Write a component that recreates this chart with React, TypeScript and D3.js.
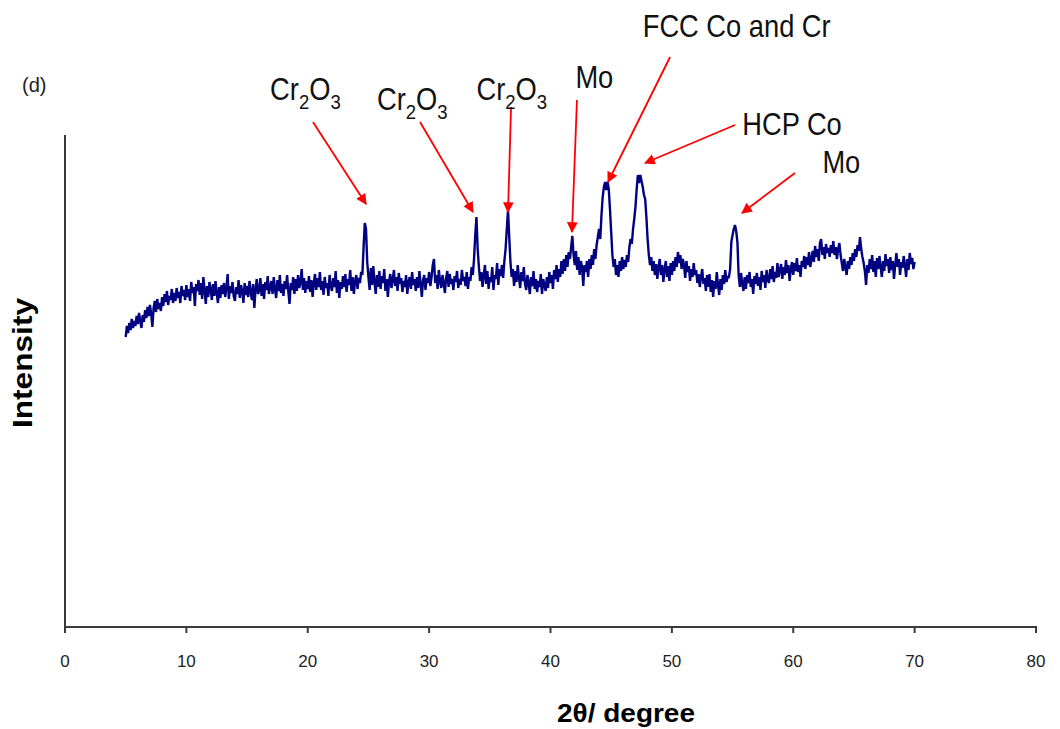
import React, { useEffect } from "react";
import * as d3 from "d3";

// ---- DATA ----
const startAngle = 5; // 2θ of the first sample (degree)
const angleStep = 0.1; // sampling step (degree)
// intensity (arbitrary units) at 5.0, 5.1, ... 70.0 degrees
const intensity: number[] = [
  290, 301, 294, 304, 297, 308, 299, 306, 301, 311, // 5
  303, 314, 306, 299, 312, 305, 317, 309, 320, 311, // 6
  322, 313, 300, 319, 326, 315, 328, 318, 324, 316, // 7
  330, 321, 333, 325, 336, 322, 331, 327, 338, 324, // 8
  334, 326, 339, 329, 335, 324, 341, 331, 337, 327, // 9
  342, 330, 338, 326, 345, 334, 340, 321, 343, 336, // 10
  347, 332, 344, 328, 350, 337, 323, 341, 330, 345, // 11
  338, 327, 343, 331, 346, 334, 324, 340, 329, 342, // 12
  333, 344, 330, 339, 353, 328, 341, 334, 345, 331, // 13
  326, 340, 333, 347, 329, 342, 336, 324, 344, 332, // 14
  341, 330, 346, 335, 327, 343, 319, 338, 348, 333, // 15
  336, 349, 331, 343, 328, 345, 337, 351, 333, 340, // 16
  346, 333, 350, 338, 329, 347, 336, 352, 334, 343, // 17
  331, 346, 338, 352, 335, 323, 344, 337, 350, 333, // 18
  348, 336, 352, 339, 345, 358, 337, 349, 334, 346, // 19
  338, 351, 335, 347, 330, 344, 353, 337, 349, 340, // 20
  355, 337, 346, 332, 350, 339, 344, 331, 352, 341, // 21
  336, 349, 340, 356, 334, 347, 329, 345, 338, 351, // 22
  340, 353, 335, 348, 342, 357, 336, 350, 333, 346, // 23
  352, 338, 349, 344, 355, 352, 380, 404, 398, 365, // 24
  350, 337, 359, 342, 361, 345, 333, 352, 340, 356, // 25
  338, 351, 344, 358, 336, 348, 330, 346, 353, 339, // 26
  347, 357, 341, 350, 336, 354, 343, 349, 335, 346, // 27
  340, 352, 333, 345, 350, 338, 355, 342, 348, 336, // 28
  350, 339, 356, 343, 330, 347, 352, 337, 349, 344, // 29
  355, 341, 350, 362, 368, 344, 352, 338, 357, 346, // 30
  339, 352, 344, 334, 349, 356, 340, 353, 343, 348, // 31
  337, 351, 345, 356, 339, 348, 342, 357, 346, 350, // 32
  341, 355, 338, 350, 346, 360, 352, 368, 392, 410, // 33
  378, 360, 346, 355, 340, 352, 362, 343, 356, 338, // 34
  350, 345, 360, 337, 352, 348, 364, 342, 358, 351, // 35
  362, 349, 366, 378, 398, 417, 390, 365, 350, 358, // 36
  341, 356, 345, 362, 350, 339, 355, 346, 360, 343, // 37
  337, 352, 344, 333, 350, 341, 356, 338, 348, 335, // 38
  346, 340, 353, 333, 348, 342, 336, 350, 339, 355, // 39
  344, 352, 338, 357, 348, 362, 345, 358, 350, 366, // 40
  353, 368, 356, 372, 360, 375, 368, 380, 391, 372, // 41
  362, 376, 357, 370, 352, 366, 360, 341, 362, 355, // 42
  366, 350, 368, 358, 372, 362, 378, 368, 382, 390, // 43
  398, 388, 412, 430, 440, 445, 437, 445, 438, 418, // 44
  395, 372, 360, 368, 352, 362, 350, 366, 356, 370, // 45
  358, 367, 360, 372, 365, 380, 388, 383, 398, 408, // 46
  420, 438, 452, 444, 452, 446, 440, 432, 428, 410, // 47
  388, 372, 362, 370, 356, 366, 352, 363, 348, 360, // 48
  368, 352, 362, 345, 358, 366, 350, 361, 346, 364, // 49
  352, 366, 356, 370, 360, 375, 364, 372, 358, 368, // 50
  362, 349, 366, 355, 361, 346, 358, 350, 364, 352, // 51
  357, 344, 353, 340, 350, 358, 343, 349, 336, 352, // 52
  340, 353, 335, 347, 330, 346, 338, 355, 342, 332, // 53
  348, 337, 352, 343, 357, 345, 350, 350, 358, 385, // 54
  392, 398, 402, 396, 385, 352, 340, 354, 343, 336, // 55
  350, 338, 352, 344, 355, 340, 348, 333, 351, 343, // 56
  354, 341, 350, 337, 356, 345, 352, 339, 357, 347, // 57
  344, 358, 348, 361, 345, 355, 349, 364, 350, 357, // 58
  363, 348, 360, 352, 367, 354, 362, 346, 358, 365, // 59
  352, 364, 356, 369, 355, 362, 350, 366, 360, 371, // 60
  358, 370, 362, 375, 360, 368, 376, 365, 381, 370, // 61
  378, 366, 384, 388, 372, 380, 368, 383, 374, 379, // 62
  370, 382, 374, 386, 372, 380, 368, 378, 384, 372, // 63
  364, 356, 368, 360, 352, 366, 358, 370, 362, 374, // 64
  366, 378, 370, 382, 376, 390, 378, 370, 364, 356, // 65
  342, 362, 354, 368, 358, 372, 355, 366, 350, 369, // 66
  358, 371, 360, 350, 366, 356, 373, 361, 368, 354, // 67
  370, 357, 366, 348, 362, 374, 360, 368, 352, 365, // 68
  359, 371, 362, 350, 368, 357, 374, 363, 369, 358, // 69
  365, // 70
];

const xTicks: number[] = [0, 10, 20, 30, 40, 50, 60, 70, 80];
const xDomain: [number, number] = [0, 80];
const yDomain: [number, number] = [0, 492];

// peak annotations: label parts, arrow tip (2θ, intensity), arrow tail (2θ, intensity)
const annLabels: { main: string; sub?: string }[][] = [
  [{ main: "Cr", sub: "2" }, { main: "O", sub: "3" }],
  [{ main: "Cr", sub: "2" }, { main: "O", sub: "3" }],
  [{ main: "Cr", sub: "2" }, { main: "O", sub: "3" }],
  [{ main: "Mo" }],
  [{ main: "FCC Co and Cr" }],
  [{ main: "HCP Co" }],
  [{ main: "Mo" }],
];
const annTip: [number, number][] = [
  [24.8, 423], [33.61, 415], [36.5, 415], [41.77, 395], [44.74, 445], [47.79, 464], [55.78, 414],
];
const annTail: [number, number][] = [
  [20.43, 505], [29.25, 505], [36.75, 520], [42.18, 527], [49.85, 570], [55.2, 502], [60.14, 454],
];
// label anchor (text start 2θ, baseline intensity)
const annText: [number, number][] = [
  [16.9, 527], [25.7, 517], [33.9, 527], [42.05, 539], [47.6, 590], [55.8, 492], [62.4, 454],
];

// ---- LAYOUT ----
const W = 1060;
const H = 729;
const M = { left: 65, right: 1036, top: 135, bottom: 627 };

export default function App() {
  useEffect(() => {
    document.body.style.margin = "0";
  }, []);

  const x = d3.scaleLinear().domain(xDomain).range([M.left, M.right]);
  const y = d3.scaleLinear().domain(yDomain).range([M.bottom, M.top]);

  const points: [number, number][] = intensity.map((v, i) => [
    startAngle + i * angleStep,
    v,
  ]);
  const line = d3
    .line<[number, number]>()
    .x((d) => x(d[0]))
    .y((d) => y(d[1]))
    .curve(d3.curveLinear);

  const font = "'Liberation Sans', Arial, sans-serif";
  const labelSize = 31;

  return (
    <div style={{ position: "absolute", left: 0, top: 0 }}>
      <svg width={W} height={H} style={{ display: "block", background: "#fff" }}>
        <defs>
          <marker
            id="arrowHead"
            viewBox="0 0 10 10"
            refX="9"
            refY="5"
            markerWidth="6"
            markerHeight="6"
            orient="auto"
            markerUnits="strokeWidth"
          >
            <path d="M0,0 L10,5 L0,10 z" fill="#ff0000" />
          </marker>
        </defs>

        {/* (d) */}
        <text x={22} y={92} fontFamily={font} fontSize={20} fill="#222">
          (d)
        </text>

        {/* axes */}
        <line x1={M.left} x2={M.left} y1={M.top} y2={M.bottom} stroke="#3a3a3a" strokeWidth={2} />
        <line x1={M.left - 1} x2={M.right + 1} y1={M.bottom} y2={M.bottom} stroke="#3a3a3a" strokeWidth={2} />
        {xTicks.map((t) => (
          <g key={t}>
            <line x1={x(t)} x2={x(t)} y1={M.bottom} y2={M.bottom + 6} stroke="#3a3a3a" strokeWidth={2} />
            <text
              x={x(t)}
              y={667}
              textAnchor="middle"
              fontFamily={font}
              fontSize={17}
              fill="#222"
            >
              {t}
            </text>
          </g>
        ))}

        {/* axis titles */}
        <text
          transform={`translate(32,363) rotate(-90)`}
          textAnchor="middle"
          fontFamily={font}
          fontWeight="bold"
          fontSize={28}
          textLength={130}
          lengthAdjust="spacingAndGlyphs"
          fill="#000"
        >
          Intensity
        </text>
        <text
          x={626}
          y={722}
          textAnchor="middle"
          fontFamily={font}
          fontWeight="bold"
          fontSize={26}
          textLength={138}
          lengthAdjust="spacingAndGlyphs"
          fill="#000"
        >
          2θ/ degree
        </text>

        {/* pattern */}
        <path
          d={line(points) || ""}
          fill="none"
          stroke="#000080"
          strokeWidth={2.4}
          strokeLinejoin="miter"
          strokeMiterlimit={2}
        />

        {/* annotations */}
        {annLabels.map((parts, i) => (
          <g key={i}>
            <line
              x1={x(annTail[i][0])}
              y1={y(annTail[i][1])}
              x2={x(annTip[i][0])}
              y2={y(annTip[i][1])}
              stroke="#ff0000"
              strokeWidth={1.8}
              markerEnd="url(#arrowHead)"
            />
            <g transform={`translate(${x(annText[i][0])},${y(annText[i][1])}) scale(0.88,1)`}>
              <text x={0} y={0} fontFamily={font} fontSize={labelSize} fill="#111">
                {parts.map((p, j) => (
                  <React.Fragment key={j}>
                    <tspan dy={j === 0 ? 0 : -9}>{p.main}</tspan>
                    {p.sub ? (
                      <tspan dy={9} fontSize={labelSize * 0.68}>
                        {p.sub}
                      </tspan>
                    ) : null}
                  </React.Fragment>
                ))}
              </text>
            </g>
          </g>
        ))}
      </svg>
    </div>
  );
}
